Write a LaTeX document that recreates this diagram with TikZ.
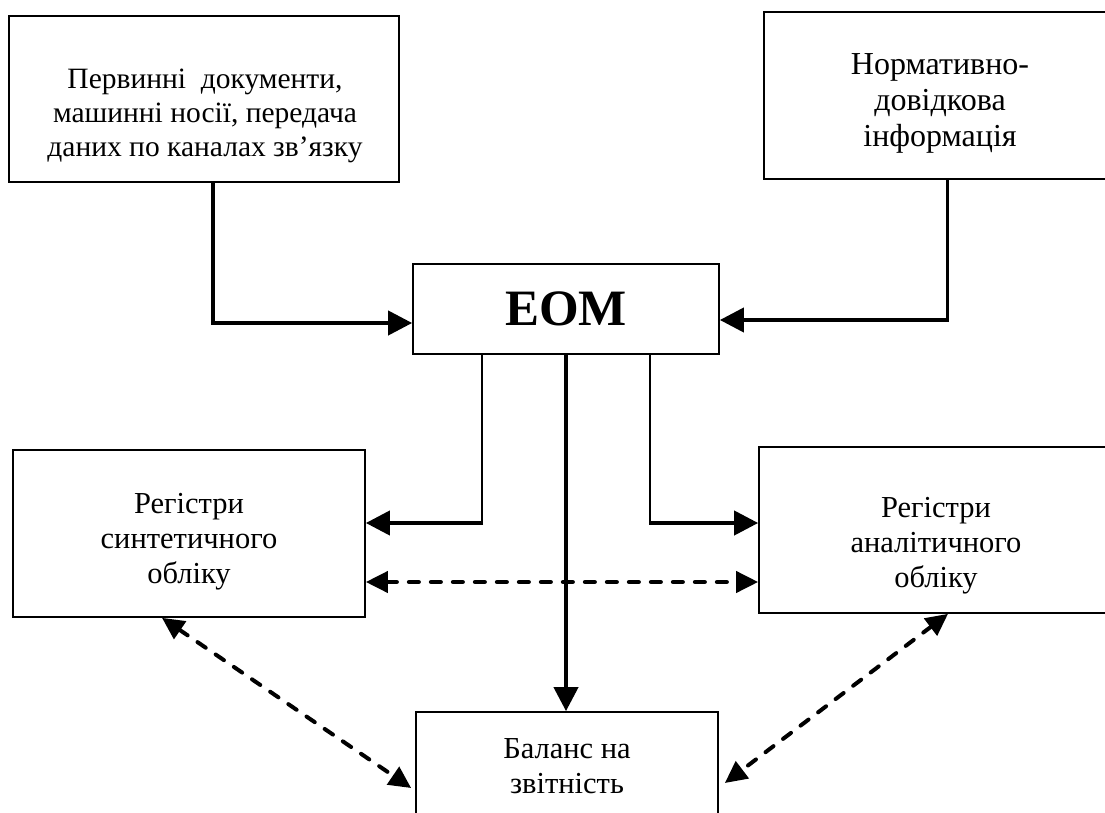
\documentclass[tikz,border=0pt]{standalone}
\usepackage{fontspec}
\setmainfont{Liberation Serif}
\usetikzlibrary{arrows.meta}
\begin{document}
\begin{tikzpicture}[x=1pt,y=-1pt,
  box/.style={draw, line width=1.7pt, rectangle, inner sep=0pt},
  lbl/.style={align=center, anchor=base, inner sep=0pt,
    font=\fontsize{30.5}{35}\selectfont},
  flow/.style={line width=4pt, -{Triangle[length=24pt,width=24pt]}},
  stem/.style={line width=2pt},
  link/.style={line width=4pt, line cap=round, dash pattern=on 10pt off 12pt,
    {Triangle[length=22pt,width=21pt]}-{Triangle[length=22pt,width=21pt]}}]
\useasboundingbox (0,0) rectangle (1105,813);
\clip (0,0) rectangle (1105,813);

% boxes
\node[box, minimum width=390pt, minimum height=166pt] (src) at (204,99) {};
\node[box, minimum width=352pt, minimum height=167pt] (ref) at (940,95.5) {};
\node[box, minimum width=306pt, minimum height=90pt,
      font=\bfseries\fontsize{51}{53}\selectfont] (eom) at (566,309) {ЕОМ};
\node[box, minimum width=352pt, minimum height=167pt] (syn) at (189,533.5) {};
\node[box, minimum width=354pt, minimum height=166pt] (ana) at (936,530) {};
\node[box, minimum width=302pt, minimum height=168pt] (bal) at (567,796) {};

% box texts (anchored at the baseline of the last line)
\node[lbl, font=\fontsize{29.5}{34}\selectfont] (srct) at (205,157)
  {Первинні~~документи,\\машинні носії, передача\\даних по каналах зв’язку};
\node[lbl, font=\fontsize{32}{36}\selectfont] (reft) at (940,147)
  {Нормативно-\\довідкова\\інформація};
\node[lbl] (synt) at (189,583) {Регістри\\синтетичного\\обліку};
\node[lbl] (anat) at (936,587) {Регістри\\аналітичного\\обліку};
\node[lbl] (balt) at (567,793) {Баланс на\\звітність};

% inputs to the computer
\coordinate (j1) at (213,323);
\coordinate (j2) at (947,320);
\draw[line width=4pt] (j1 |- src.south) -- (j1);
\draw[flow] ([xshift=-2pt]j1) -- (j1 -| eom.west);
\draw[line width=3pt] (j2 |- ref.south) -- (j2);
\draw[flow] ([xshift=1.5pt]j2) -- (j2 -| eom.east);

% outputs of the computer
\coordinate (j3) at (482,523);
\coordinate (j4) at (650,523);
\draw[stem] (j3 |- eom.south) -- (j3);
\draw[flow] ([xshift=1pt]j3) -- (j3 -| syn.east);
\draw[stem] (j4 |- eom.south) -- (j4);
\draw[flow] ([xshift=-1pt]j4) -- (j4 -| ana.west);
\draw[flow] (eom.south) -- (eom.south |- bal.north);

% links between registers and the balance
\coordinate (hd) at (0,582);
\draw[link] (syn.east |- hd) -- (ana.west |- hd);
\draw[link] ([xshift=-27pt]syn.south) -- ([xshift=-4pt,yshift=8pt]bal.west);
\draw[link] ([xshift=12pt]ana.south) -- ([xshift=6pt,yshift=13pt]bal.east);
\end{tikzpicture}
\end{document}
